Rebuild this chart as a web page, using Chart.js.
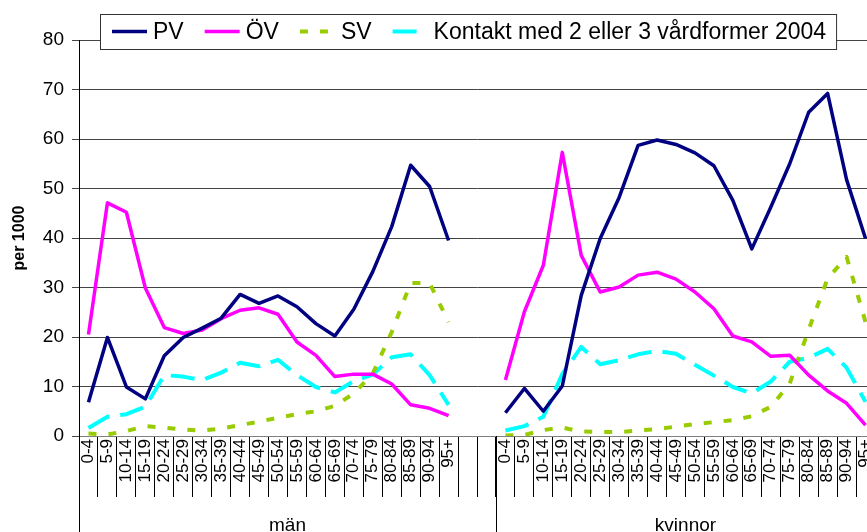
<!DOCTYPE html>
<html>
<head>
<meta charset="utf-8">
<script src="https://cdn.jsdelivr.net/npm/chart.js@4.4.0/dist/chart.umd.min.js"></script>
<style>
  html, body { margin: 0; padding: 0; background: #fff; overflow: hidden; }
  #wrap { width: 876px; height: 532px; }
</style>
</head>
<body>
<div id="wrap"><canvas id="chart" width="876" height="532"></canvas></div>
<script>
// ---------------- DATA ----------------
const ageGroups = ['0-4', '5-9', '10-14', '15-19', '20-24', '25-29', '30-34', '35-39', '40-44', '45-49',
  '50-54', '55-59', '60-64', '65-69', '70-74', '75-79', '80-84', '85-89', '90-94', '95+'];
const groupNames = ['män', 'kvinnor'];
const seriesNames = ['PV', 'ÖV', 'SV', 'Kontakt med 2 eller 3 vårdformer 2004'];
const yTicks = [0, 10, 20, 30, 40, 50, 60, 70, 80];

const pvMen   = [6.8, 19.9, 9.9, 7.5, 16.2, 19.9, 21.8, 23.8, 28.6, 26.8, 28.3, 26.1, 22.7, 20.2, 25.6, 33.2, 42.3, 54.7, 50.4, 39.5];
const ovMen   = [20.5, 47.1, 45.2, 29.9, 21.9, 20.7, 21.4, 23.7, 25.4, 25.9, 24.6, 19.0, 16.3, 12.0, 12.5, 12.5, 10.5, 6.3, 5.6, 4.1];
const svMen   = [0.5, 0.3, 1.0, 2.0, 1.7, 1.3, 1.1, 1.5, 2.2, 2.9, 3.7, 4.4, 5.0, 6.1, 8.6, 12.6, 21.0, 30.9, 30.9, 23.0];
const koMen   = [1.6, 3.9, 4.4, 5.9, 12.3, 12.0, 11.3, 12.8, 14.8, 14.1, 15.4, 12.3, 9.9, 8.8, 11.1, 12.4, 15.9, 16.5, 12.3, 6.3];

const pvWomen = [4.7, 9.6, 5.0, 10.1, 28.4, 39.9, 48.2, 58.7, 59.8, 58.9, 57.2, 54.6, 47.6, 37.8, 46.2, 55.0, 65.4, 69.2, 51.8, 39.9];
const ovWomen = [11.3, 25.1, 34.5, 57.3, 36.5, 29.1, 30.1, 32.5, 33.1, 31.7, 29.1, 25.7, 20.2, 19.0, 16.1, 16.3, 12.3, 9.1, 6.6, 2.2];
const svWomen = [0.1, 0.2, 1.2, 1.7, 0.9, 0.8, 0.8, 1.1, 1.4, 1.9, 2.4, 2.8, 3.2, 4.0, 5.9, 10.6, 21.5, 31.8, 36.2, 23.0];
const koWomen = [1.1, 2.0, 3.9, 12.5, 18.0, 14.5, 15.3, 16.5, 17.2, 16.6, 14.4, 12.2, 9.9, 8.6, 11.0, 15.0, 15.8, 17.6, 13.8, 6.9];

// two empty slots between the groups
const gapLabels = ['', ''];
const gapValues = [null, null];
const labels = ageGroups.concat(gapLabels, ageGroups);
const join = (a, b) => a.concat(gapValues, b);

const FONT = '"Liberation Sans", Arial, sans-serif';
Chart.defaults.font.family = FONT;
Chart.defaults.color = '#000';

// ---------------- EXTRA DRAWING: group axis + boxed legend ----------------
const extras = {
  id: 'extras',
  afterDraw(chart) {
    const ctx = chart.ctx;
    const area = chart.chartArea;
    const xs = chart.scales.x;
    const step = xs.getPixelForTick(1) - xs.getPixelForTick(0);
    const split = xs.getPixelForTick(ageGroups.length + gapLabels.length) - step / 2;

    ctx.save();
    ctx.strokeStyle = '#000';
    ctx.lineWidth = 1;
    [area.left, split].forEach(px => {
      const xx = Math.round(px) + 0.5;
      ctx.beginPath();
      ctx.moveTo(xx, area.bottom);
      ctx.lineTo(xx, chart.height);
      ctx.stroke();
    });

    ctx.fillStyle = '#000';
    ctx.font = '19px ' + FONT;
    ctx.textAlign = 'center';
    ctx.textBaseline = 'alphabetic';
    ctx.fillText(groupNames[0], (area.left + split) / 2, 531);
    ctx.fillText(groupNames[1], (split + area.right) / 2, 531);

    // legend
    ctx.font = '23px ' + FONT;
    const boxX = 100, boxY = 14, boxH = 35;
    const sample = 35, textGap = 6, itemGap = 21;
    const items = chart.data.datasets.map(ds => ({ ds, w: ctx.measureText(ds.label).width }));
    let boxW = 12 + 10;
    items.forEach((it, i) => { boxW += sample + textGap + it.w + (i ? itemGap : 0); });
    ctx.fillStyle = '#fff';
    ctx.fillRect(boxX, boxY, boxW, boxH);
    ctx.strokeStyle = '#333';
    ctx.strokeRect(boxX + 0.5, boxY + 0.5, boxW, boxH);

    const cy = boxY + boxH / 2;
    let lx = boxX + 12;
    ctx.textAlign = 'left';
    ctx.textBaseline = 'middle';
    items.forEach(it => {
      ctx.save();
      ctx.strokeStyle = it.ds.borderColor;
      ctx.lineWidth = it.ds.borderWidth;
      ctx.setLineDash(it.ds.borderDash || []);
      ctx.beginPath();
      ctx.moveTo(lx, cy);
      ctx.lineTo(lx + sample, cy);
      ctx.stroke();
      ctx.restore();
      ctx.fillStyle = '#000';
      ctx.fillText(it.ds.label, lx + sample + textGap, cy + 1);
      lx += sample + textGap + it.w + itemGap;
    });
    ctx.restore();
  }
};

// ---------------- CHART ----------------
new Chart(document.getElementById('chart'), {
  type: 'line',
  data: {
    labels,
    datasets: [
      { label: seriesNames[0], data: join(pvMen, pvWomen), borderColor: '#000080', borderWidth: 3.5 },
      { label: seriesNames[1], data: join(ovMen, ovWomen), borderColor: '#FF00FF', borderWidth: 3.5 },
      { label: seriesNames[2], data: join(svMen, svWomen), borderColor: '#99CC00', borderWidth: 4, borderDash: [8, 12] },
      { label: seriesNames[3], data: join(koMen, koWomen), borderColor: '#00FFFF', borderWidth: 4, borderDash: [24, 11] }
    ]
  },
  options: {
    responsive: false,
    animation: false,
    devicePixelRatio: 1,
    spanGaps: false,
    layout: { padding: { top: 40, left: 0, right: 1, bottom: 0 } },
    elements: {
      point: { radius: 0, hoverRadius: 0 },
      line: { tension: 0, borderJoinStyle: 'round', fill: false }
    },
    plugins: { legend: { display: false }, tooltip: { enabled: false } },
    scales: {
      x: {
        offset: true,
        ticks: { color: '#000', font: { size: 17 }, autoSkip: false, minRotation: 90, maxRotation: 90, padding: -58 },
        grid: { offset: true, drawOnChartArea: false, color: '#000', tickLength: 61 },
        border: { color: '#808080' },
        afterFit: s => { s.height = 96; }
      },
      y: {
        min: yTicks[0],
        max: yTicks[yTicks.length - 1],
        afterBuildTicks: s => { s.ticks = yTicks.map(v => ({ value: v })); },
        ticks: { color: '#000', font: { size: 19 }, padding: 8 },
        grid: { color: '#444', tickLength: 7 },
        border: { color: '#000' },
        title: { display: true, text: 'per 1000', color: '#000', font: { size: 16, weight: 'bold' }, padding: { top: 10, bottom: 0 } },
        afterFit: s => { s.width = 79; }
      }
    }
  },
  plugins: [extras]
});
</script>
</body>
</html>
